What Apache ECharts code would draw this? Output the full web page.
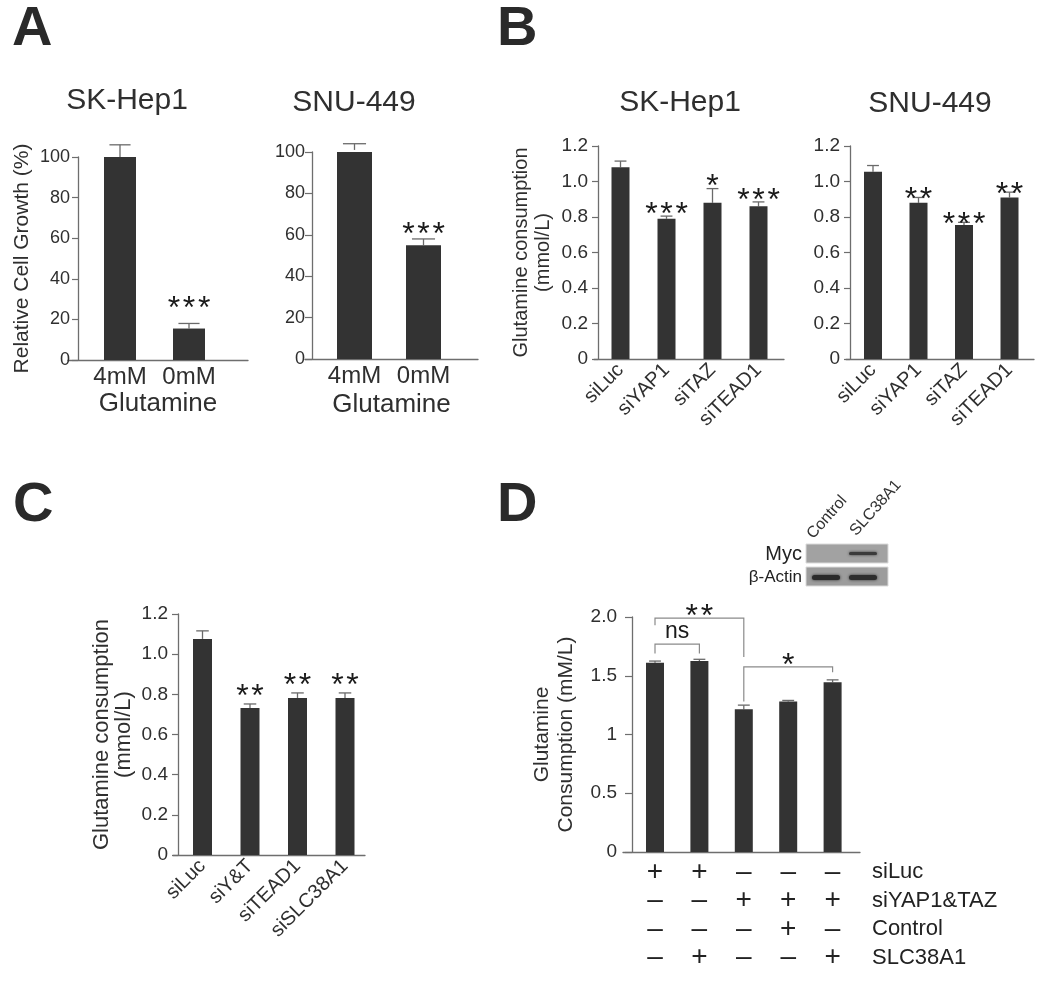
<!DOCTYPE html>
<html><head><meta charset="utf-8">
<script src="https://cdn.jsdelivr.net/npm/echarts@6/dist/echarts.min.js"></script>
<style>html,body{margin:0;padding:0;background:#fff}#c{width:1050px;height:989px}</style>
</head><body><div id="c"></div>
<script>
// ---------------- DATA ----------------
const catsA = ['4mM', '0mM'];
const ticksA = ['0', '20', '40', '60', '80', '100'];
const valsA1 = [100, 15.5];
const errA1 = [106, 18];
const starsA1 = ['', '***'];
const valsA2 = [101, 55];
const errA2 = [104, 58];
const starsA2 = ['', '***'];

const catsB = ['siLuc', 'siYAP1', 'siTAZ', 'siTEAD1'];
const ticksB = ['0', '0.2', '0.4', '0.6', '0.8', '1.0', '1.2'];
const valsB1 = [1.08, 0.79, 0.88, 0.86];
const errB1 = [1.115, 0.805, 0.96, 0.885];
const starsB1 = ['', '***', '*', '***'];
const valsB2 = [1.055, 0.88, 0.755, 0.91];
const errB2 = [1.09, 0.91, 0.77, 0.94];
const starsB2 = ['', '**', '***', '**'];

const catsC = ['siLuc', 'siY&T', 'siTEAD1', 'siSLC38A1'];
const ticksC = ['0', '0.2', '0.4', '0.6', '0.8', '1.0', '1.2'];
const valsC = [1.076, 0.732, 0.782, 0.782];
const errC = [1.116, 0.752, 0.807, 0.807];
const starsC = ['', '**', '**', '**'];

const groupsD = ['G1', 'G2', 'G3', 'G4', 'G5'];
const ticksD = ['0', '0.5', '1', '1.5', '2.0'];
const valsD = [1.61, 1.625, 1.215, 1.28, 1.445];
const errD = [1.625, 1.64, 1.25, 1.29, 1.465];
const starsD = ['', '', '', '', ''];
const conditionsD = ['siLuc', 'siYAP1&TAZ', 'Control', 'SLC38A1'];
const signsD = [
  ['+', '+', '\u2013', '\u2013', '\u2013'],
  ['\u2013', '\u2013', '+', '+', '+'],
  ['\u2013', '\u2013', '\u2013', '+', '\u2013'],
  ['\u2013', '+', '\u2013', '\u2013', '+']
];
// brackets: [fromGroup, toGroup, level, leftDropTo, rightDropTo]
const bracketsD = [[0, 1, 1.77, 1.69, 1.69], [0, 2, 1.99, 1.93, 1.66], [2, 4, 1.575, 1.28, 1.53]];
const bracketLabelsD = ['ns', '**', '*'];
const blotLanes = ['Control', 'SLC38A1'];
const blotRows = ['Myc', '\u03b2-Actin'];
const titles = ['SK-Hep1', 'SNU-449', 'SK-Hep1', 'SNU-449'];
const panelLetters = ['A', 'B', 'C', 'D'];

// ---------------- LAYOUT / STYLE ----------------
const FONT = '"Liberation Sans", Arial, Helvetica, sans-serif';
const TXT = '#2f2f2f';
const AX = '#6e6e6e';
const BAR = '#333333';
const STAR_FONT = 32;

const L = {
  A1: {ax0: 68, yx: 78, ax1: 248, c0: 120, sp: 69, y0: 360, yTop: 157, max: 100, interval: 20, barW: 32,
       tickFont: 18, tickLen: 6, labMargin: 8, catFont: 24, catRotate: 0, catMargin: 5, starGap: 23,
       yName: 'Relative Cell Growth (%)', yNameFont: 21, yNameGap: 44, yNameLH: 24,
       xName: 'Glutamine', xNameGap: 31},
  A2: {ax0: 305, yx: 312, ax1: 478, c0: 354.5, sp: 69, y0: 359, yTop: 152, max: 100, interval: 20, barW: 35,
       tickFont: 18, tickLen: 7, labMargin: 7, catFont: 24, catRotate: 0, catMargin: 5, starGap: 13,
       yName: '', xName: 'Glutamine', xNameGap: 33},
  B1: {ax0: 594, yx: 598, ax1: 784, c0: 620.5, sp: 46, y0: 359, yTop: 146, max: 1.2, interval: 0.2, barW: 18,
       tickFont: 19, tickLen: 6, labMargin: 10, catFont: 20, catRotate: 45, catMargin: 8, starGap: 10,
       yName: 'Glutamine consumption\n(mmol/L)', yNameFont: 20, yNameGap: 44, yNameLH: 22, xName: ''},
  B2: {ax0: 846, yx: 850, ax1: 1034, c0: 873, sp: 45.5, y0: 359, yTop: 146, max: 1.2, interval: 0.2, barW: 18,
       tickFont: 19, tickLen: 6, labMargin: 10, catFont: 20, catRotate: 45, catMargin: 8, starGap: 6,
       yName: '', xName: ''},
  C:  {ax0: 173, yx: 178, ax1: 365, c0: 202.5, sp: 47.5, y0: 855, yTop: 614, max: 1.2, interval: 0.2, barW: 19,
       tickFont: 19, tickLen: 6, labMargin: 10, catFont: 20, catRotate: 45, catMargin: 8, starGap: 16,
       yName: 'Glutamine consumption\n(mmol/L)', yNameFont: 22, yNameGap: 43, yNameLH: 22, xName: ''},
  D:  {ax0: 623, yx: 632, ax1: 860, c0: 655, sp: 44.4, y0: 852, yTop: 617, max: 2.0, interval: 0.5, barW: 18,
       tickFont: 19, tickLen: 7, labMargin: 15, catFont: 28, catRotate: 0, catMargin: 6, catLH: 28.5, starGap: 10,
       yName: 'Glutamine\nConsumption (mM/L)', yNameFont: 21, yNameGap: 54, yNameLH: 24, xName: ''}
};

const panels = [
  {key: 'A1', cats: catsA, ticks: ticksA, vals: valsA1, errs: errA1, stars: starsA1},
  {key: 'A2', cats: catsA, ticks: ticksA, vals: valsA2, errs: errA2, stars: starsA2},
  {key: 'B1', cats: catsB, ticks: ticksB, vals: valsB1, errs: errB1, stars: starsB1},
  {key: 'B2', cats: catsB, ticks: ticksB, vals: valsB2, errs: errB2, stars: starsB2},
  {key: 'C',  cats: catsC, ticks: ticksC, vals: valsC, errs: errC, stars: starsC},
  {key: 'D',  cats: groupsD, ticks: ticksD, vals: valsD, errs: errD, stars: starsD,
   catText: i => signsD.map(r => r[i]).join('\n')}
];

// spread asterisks slightly, like the original figure
const spreadStars = s => s.split('').join('\u200a');

const grids = [], xAxes = [], yAxes = [], series = [];
panels.forEach((p, k) => {
  const l = L[p.key];
  grids.push({left: l.ax0, top: l.yTop, width: l.ax1 - l.ax0, height: l.y0 - l.yTop,
              containLabel: false, outerBoundsMode: 'none'});
  xAxes.push({
    type: 'value', gridIndex: k,
    min: -(l.c0 - l.ax0) / l.sp, max: (l.ax1 - l.c0) / l.sp,
    axisLine: {show: true, onZero: false, lineStyle: {color: AX, width: 1.3}},
    axisTick: {show: false}, splitLine: {show: false},
    axisLabel: {
      customValues: p.cats.map((c, i) => i),
      formatter: v => { const i = Math.round(v); return p.catText ? p.catText(i) : p.cats[i]; },
      rotate: l.catRotate, fontSize: l.catFont, fontFamily: FONT, color: p.key === 'D' ? '#222' : TXT,
      margin: l.catMargin, lineHeight: l.catLH || undefined
    },
    name: l.xName, nameLocation: 'middle', nameGap: l.xNameGap || 30,
    nameTextStyle: {fontSize: 26, fontFamily: FONT, color: TXT}
  });
  yAxes.push({
    type: 'value', gridIndex: k, min: 0, max: l.max, interval: l.interval,
    offset: -(l.yx - l.ax0),
    axisLine: {show: true, onZero: false, lineStyle: {color: AX, width: 1.3}},
    axisTick: {show: true, length: l.tickLen, lineStyle: {color: AX, width: 1.2}},
    splitLine: {show: false},
    axisLabel: {fontSize: l.tickFont, fontFamily: FONT, color: TXT, margin: l.labMargin,
                formatter: (v, idx) => p.ticks[idx]},
    name: l.yName, nameLocation: 'middle', nameRotate: 90, nameGap: l.yNameGap || 40,
    nameTextStyle: {fontSize: l.yNameFont || 20, fontFamily: FONT, color: TXT, lineHeight: l.yNameLH || 22}
  });
  series.push({
    type: 'bar', xAxisIndex: k, yAxisIndex: k, barWidth: l.barW, silent: true,
    itemStyle: {color: BAR}, data: p.vals.map((v, i) => [i, v])
  });
  series.push({
    type: 'custom', xAxisIndex: k, yAxisIndex: k, silent: true, clip: false,
    data: p.vals.map((v, i) => [i, v, p.errs[i]]),
    renderItem: (params, api) => {
      const i = api.value(0), v = api.value(1), e = api.value(2);
      const a = api.coord([i, v]), b = api.coord([i, e]);
      const hw = l.barW * 0.33;
      const ch = [
        {type: 'line', shape: {x1: a[0], y1: a[1], x2: b[0], y2: b[1]}, style: {stroke: '#6a6a6a', lineWidth: 1.3}},
        {type: 'line', shape: {x1: b[0] - hw, y1: b[1], x2: b[0] + hw, y2: b[1]}, style: {stroke: '#6a6a6a', lineWidth: 1.3}}
      ];
      const s = p.stars[params.dataIndex];
      if (s) ch.push({type: 'text', x: b[0], y: b[1] - l.starGap + 9,
        style: {text: spreadStars(s), fontSize: STAR_FONT, fontFamily: FONT, fill: '#1a1a1a', align: 'center', verticalAlign: 'middle'}});
      return {type: 'group', children: ch};
    }
  });
});

// significance brackets for D
const dIdx = panels.length - 1;
series.push({
  type: 'custom', xAxisIndex: dIdx, yAxisIndex: dIdx, silent: true, clip: false,
  data: bracketsD,
  renderItem: (params, api) => {
    const f = api.value(0), t = api.value(1), lv = api.value(2), dl = api.value(3), dr = api.value(4);
    const p1 = api.coord([f, dl]), p2 = api.coord([f, lv]), p3 = api.coord([t, lv]), p4 = api.coord([t, dr]);
    const lab = bracketLabelsD[params.dataIndex];
    const isStar = lab.indexOf('*') >= 0;
    return {type: 'group', children: [
      {type: 'polyline', shape: {points: [p1, p2, p3, p4]}, style: {stroke: '#8a8a8a', lineWidth: 1.2, fill: null}},
      {type: 'text', x: (p2[0] + p3[0]) / 2, y: isStar ? p2[1] - 1 : p2[1] - 12,
       style: {text: isStar ? spreadStars(lab) : lab, fontSize: isStar ? STAR_FONT : 23, fontFamily: FONT,
               fill: '#1a1a1a', align: 'center', verticalAlign: 'middle'}}
    ]};
  }
});

// ---------------- decorations (titles, letters, blot, row labels) ----------------
const titlePos = [[127, 101], [354, 103], [680, 103], [930, 104]];
const letterPos = [[12, 30], [497, 30], [13, 506], [497, 506]];
const g = [];
titles.forEach((t, i) => g.push({type: 'text', x: titlePos[i][0], y: titlePos[i][1],
  style: {text: t, fontSize: 30, fontFamily: FONT, fill: TXT, align: 'center', verticalAlign: 'middle'}}));
panelLetters.forEach((t, i) => g.push({type: 'text', x: letterPos[i][0], y: letterPos[i][1],
  style: {text: t, fontSize: 56, fontWeight: 'bold', fontFamily: FONT, fill: '#2a2a2a', align: 'left', verticalAlign: 'middle'}}));
// condition row labels for D table
g.push({type: 'text', x: 872, y: L.D.y0 + L.D.catMargin,
  style: {text: conditionsD.join('\n'), fontSize: 22, lineHeight: 28.5, fontFamily: FONT, fill: '#222',
          align: 'left', verticalAlign: 'top'}});
// western blot inset
const blot = {x: 806, w: 82, rows: [544, 567], h: 19};
blotRows.forEach((r, i) => {
  g.push({type: 'rect', shape: {x: blot.x, y: blot.rows[i], width: blot.w, height: blot.h},
          style: {fill: i === 0 ? '#a2a2a2' : '#9c9c9c', stroke: '#dadada', lineWidth: 1}});
  g.push({type: 'text', x: 802, y: blot.rows[i] + blot.h / 2 + 1,
          style: {text: r, fontSize: i === 0 ? 20 : 17, fontFamily: FONT, fill: '#222', align: 'right', verticalAlign: 'middle'}});
});
// bands: [row, lane, thickness, colour]
const bands = [[0, 1, 3, '#3a3a3a'], [1, 0, 5, '#2a2a2a'], [1, 1, 5, '#2e2e2e']];
bands.forEach(b => {
  const cx = blot.x + (b[1] === 0 ? 20 : 57);
  const cy = blot.rows[b[0]] + blot.h / 2 + (b[0] === 0 ? 0 : 1);
  g.push({type: 'rect', shape: {x: cx - 14, y: cy - b[2] / 2, width: 28, height: b[2], r: b[2] / 2},
          style: {fill: b[3], shadowBlur: 3, shadowColor: b[3]}});
});
blotLanes.forEach((t, i) => g.push({type: 'text', x: 816 + i * 43, y: 542 - i * 3, rotation: Math.PI * 0.27,
  style: {text: t, fontSize: 16, fontFamily: FONT, fill: '#333', align: 'left', verticalAlign: 'bottom'}}));

const chart = echarts.init(document.getElementById('c'), null, {renderer: 'canvas'});
chart.setOption({
  animation: false,
  backgroundColor: '#ffffff',
  grid: grids, xAxis: xAxes, yAxis: yAxes, series: series,
  graphic: {elements: g}
});
</script>
</body></html>
